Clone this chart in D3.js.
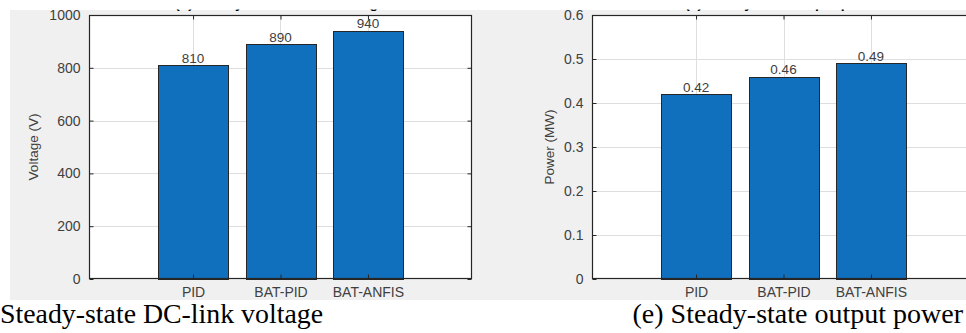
<!DOCTYPE html>
<html>
<head>
<meta charset="utf-8">
<script src="https://cdn.jsdelivr.net/npm/d3@7"></script>
<style>
  html, body { margin: 0; padding: 0; background: #ffffff; }
  svg { display: block; }
</style>
</head>
<body>
<svg id="fig" width="966" height="333"></svg>
<script>
// Controller comparison: steady-state DC-link voltage and output power
const categories = ["PID", "BAT-PID", "BAT-ANFIS"];
const voltageValues = [810, 890, 940];
const powerValues = [0.42, 0.46, 0.49];
const voltageTicks = [0, 200, 400, 600, 800, 1000];
const powerTicks = [0, 0.1, 0.2, 0.3, 0.4, 0.5, 0.6];
const voltageTickLabels = ["0", "200", "400", "600", "800", "1000"];
const powerTickLabels = ["0", "0.1", "0.2", "0.3", "0.4", "0.5", "0.6"];
const voltageLabels = ["810", "890", "940"];
const powerLabels = ["0.42", "0.46", "0.49"];

const svg = d3.select("#fig");
const W = 966, H = 333;

const sansFont = "'Liberation Sans', Arial, Helvetica, sans-serif";
const serifFont = "'Liberation Serif', 'Times New Roman', serif";
const inkColor = "#262626";
const labelColor = "#404040";
const gridColor = "#dedede";
const barColor = "#1170bd";

// figure window background
svg.append("rect").attr("x", 10).attr("y", 10).attr("width", W - 10).attr("height", 290)
  .attr("fill", "#f0f0f0");

const defs = svg.append("defs");
defs.append("clipPath").attr("id", "figClip")
  .append("rect").attr("x", 0).attr("y", 9.6).attr("width", W).attr("height", 300);

function drawPanel(opts) {
  const { left, top, width, height, values, labels, ticks, tickLabels, yMax, yTitle, title, yTitleX } = opts;
  const g = svg.append("g").attr("clip-path", "url(#figClip)");

  const x = d3.scaleLinear().domain([-0.19, 4.19]).range([left, left + width]);
  const y = d3.scaleLinear().domain([0, yMax]).range([top + height, top]);
  const idx = categories.map((c, i) => i + 1);

  // plot area
  g.append("rect").attr("x", left).attr("y", top).attr("width", width).attr("height", height)
    .attr("fill", "#ffffff");

  // grid
  g.append("g").selectAll("line").data(ticks.slice(1, -1)).join("line")
    .attr("x1", left).attr("x2", left + width)
    .attr("y1", d => Math.round(y(d)) + 0.5).attr("y2", d => Math.round(y(d)) + 0.5)
    .attr("stroke", gridColor).attr("stroke-width", 1);
  g.append("g").selectAll("line").data(idx).join("line")
    .attr("y1", top).attr("y2", top + height)
    .attr("x1", d => Math.round(x(d)) + 0.5).attr("x2", d => Math.round(x(d)) + 0.5)
    .attr("stroke", gridColor).attr("stroke-width", 1);

  // bars
  const bw = x(0.8) - x(0);
  g.append("g").selectAll("rect").data(values).join("rect")
    .attr("x", (d, i) => Math.round(x(i + 1) - bw / 2) + 0.5)
    .attr("y", d => Math.round(y(d)) + 0.5)
    .attr("width", Math.round(bw))
    .attr("height", d => Math.round(y(0)) - Math.round(y(d)))
    .attr("fill", barColor).attr("stroke", inkColor).attr("stroke-width", 1);

  // value labels
  g.append("g").selectAll("text").data(values).join("text")
    .attr("x", (d, i) => x(i + 1))
    .attr("y", d => y(d) - 2.5)
    .attr("text-anchor", "middle")
    .attr("font-family", sansFont).attr("font-size", 13.5)
    .attr("fill", labelColor)
    .text((d, i) => labels[i]);

  // y axis (inward ticks) with tick labels
  const yAxis = d3.axisLeft(y).tickValues(ticks).tickSize(-4).tickPadding(9)
    .tickFormat((d, i) => tickLabels[i]);
  const ya = g.append("g").attr("transform", `translate(${left + 0.5},0)`).call(yAxis);
  ya.select(".domain").remove();
  ya.selectAll(".tick line").attr("stroke", inkColor);
  ya.selectAll(".tick text").attr("font-family", sansFont).attr("font-size", 14)
    .attr("fill", labelColor);

  // right side ticks
  const yAxisR = d3.axisRight(y).tickValues(ticks).tickSize(-4).tickFormat("");
  const yr = g.append("g").attr("transform", `translate(${left + width - 0.5},0)`).call(yAxisR);
  yr.select(".domain").remove();
  yr.selectAll(".tick line").attr("stroke", inkColor);

  // x axis
  const xAxis = d3.axisBottom(x).tickValues(idx).tickSize(-4).tickPadding(9)
    .tickFormat((d, i) => categories[i]);
  const xa = g.append("g").attr("transform", `translate(0,${top + height - 0.5})`).call(xAxis);
  xa.select(".domain").remove();
  xa.selectAll(".tick line").attr("stroke", inkColor);
  xa.selectAll(".tick text").attr("font-family", sansFont).attr("font-size", 14)
    .attr("fill", labelColor);

  const xAxisT = d3.axisTop(x).tickValues(idx).tickSize(-4).tickFormat("");
  const xt = g.append("g").attr("transform", `translate(0,${top + 0.5})`).call(xAxisT);
  xt.select(".domain").remove();
  xt.selectAll(".tick line").attr("stroke", inkColor);

  // axes box
  g.append("rect").attr("x", left + 0.5).attr("y", top + 0.5)
    .attr("width", width - 1).attr("height", height - 1)
    .attr("fill", "none").attr("stroke", inkColor).attr("stroke-width", 1.2);

  // y title
  g.append("text")
    .attr("transform", `translate(${yTitleX},${top + height / 2}) rotate(-90)`)
    .attr("text-anchor", "middle")
    .attr("font-family", sansFont).attr("font-size", 13.5)
    .attr("fill", labelColor)
    .text(yTitle);

  // axes title
  g.append("text")
    .attr("x", left + width / 2).attr("y", 8)
    .attr("text-anchor", "middle")
    .attr("font-family", sansFont).attr("font-size", 14).attr("font-weight", "bold")
    .attr("fill", "#000000")
    .text(title);
}

drawPanel({
  left: 89, top: 15, width: 383, height: 264,
  values: voltageValues, labels: voltageLabels,
  ticks: voltageTicks, tickLabels: voltageTickLabels, yMax: 1000,
  yTitle: "Voltage (V)", yTitleX: 38,
  title: "(d) Steady-state DC-link voltage"
});

drawPanel({
  left: 592, top: 15, width: 383, height: 264,
  values: powerValues, labels: powerLabels,
  ticks: powerTicks, tickLabels: powerTickLabels, yMax: 0.6,
  yTitle: "Power (MW)", yTitleX: 554,
  title: "(e) Steady-state output power"
});

// sub-figure captions
svg.append("text")
  .attr("x", 0).attr("y", 323)
  .attr("font-family", serifFont).attr("font-size", 28)
  .attr("fill", "#000000")
  .attr("textLength", 323).attr("lengthAdjust", "spacingAndGlyphs")
  .text("Steady-state DC-link voltage");

svg.append("text")
  .attr("x", 963).attr("y", 323)
  .attr("text-anchor", "end")
  .attr("font-family", serifFont).attr("font-size", 28)
  .attr("fill", "#000000")
  .text("(e) Steady-state output power");
</script>
</body>
</html>
